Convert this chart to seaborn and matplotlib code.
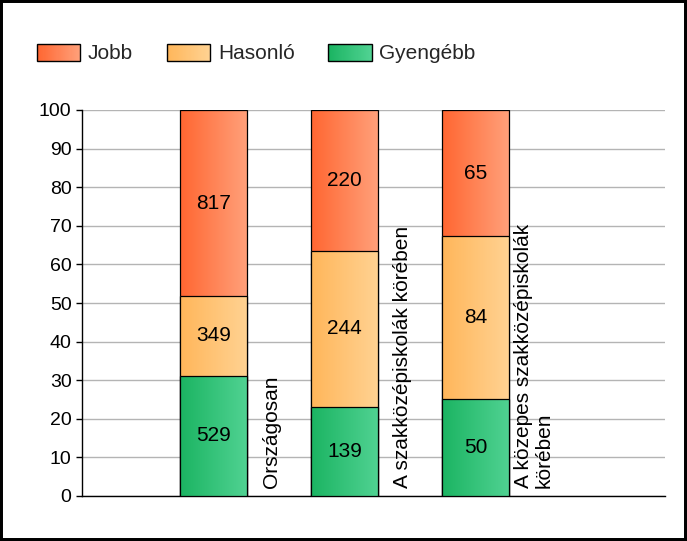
import numpy as np
import pandas as pd
import matplotlib
matplotlib.use("Agg")
import matplotlib.pyplot as plt
import seaborn as sns
from matplotlib.colors import LinearSegmentedColormap, to_rgb
from matplotlib.patches import Rectangle
from matplotlib.legend_handler import HandlerBase

# ---- data ----
categories = ["Országosan", "A szakközépiskolák körében", "A közepes szakközépiskolák\nkörében"]
series = ["Jobb", "Hasonló", "Gyengébb"]
jobb = [817, 220, 65]
hasonlo = [349, 244, 84]
gyengebb = [529, 139, 50]
yticks = [0, 10, 20, 30, 40, 50, 60, 70, 80, 90, 100]

# gradient colours (left -> right)
grad_colors = {
    "Jobb": ("#FF6631", "#FFA07A"),
    "Hasonló": ("#FFB65A", "#FFD292"),
    "Gyengébb": ("#1BB462", "#50D292"),
}

sns.set_theme(style="ticks")
plt.rcParams["font.family"] = ["Liberation Sans", "DejaVu Sans"]
FS_TICK = 14
FS = 15

fig = plt.figure(figsize=(6.87, 5.41), dpi=100)
ax = fig.add_axes([82 / 687, 1 - 496 / 541, (665 - 82) / 687, (496 - 110) / 541])

totals = np.array(jobb) + np.array(hasonlo) + np.array(gyengebb)
p_g = np.array(gyengebb) / totals * 100
p_h = np.array(hasonlo) / totals * 100
p_j = np.array(jobb) / totals * 100

# cumulative tops, drawn back-to-front
layers = [
    ("Jobb", p_g + p_h + p_j),
    ("Hasonló", p_g + p_h),
    ("Gyengébb", p_g),
]

BW = 0.51
for k, (name, tops) in enumerate(layers):
    df = pd.DataFrame({"cat": categories, "val": tops})
    n_before = len(ax.patches)
    sns.barplot(data=df, x="cat", y="val", order=categories, width=BW,
                color=grad_colors[name][0], ax=ax, errorbar=None)
    cmap = LinearSegmentedColormap.from_list(name, grad_colors[name])
    grad = np.linspace(0, 1, 256).reshape(1, -1)
    for p in ax.patches[n_before:]:
        x0, y0 = p.get_x(), p.get_y()
        w, h = p.get_width(), p.get_height()
        p.set_facecolor("none")
        p.set_edgecolor("black")
        p.set_linewidth(0.9)
        p.set_zorder(3 + 2 * k + 0.5)
        im = ax.imshow(grad, extent=[x0, x0 + w, y0, y0 + h], aspect="auto",
                       cmap=cmap, interpolation="bilinear", zorder=3 + 2 * k,
                       origin="lower")
        im.set_clip_path(p)

# value labels
for i in range(len(categories)):
    segs = [(0, p_g[i], gyengebb[i]),
            (p_g[i], p_g[i] + p_h[i], hasonlo[i]),
            (p_g[i] + p_h[i], 100, jobb[i])]
    for lo, hi, v in segs:
        ax.text(i, (lo + hi) / 2, str(v), ha="center", va="center",
                fontsize=FS, color="black", zorder=20)

# category labels (rotated, right of bars)
for i, c in enumerate(categories):
    ax.text(i + 0.445, 2.0, c, rotation=90, ha="center", va="bottom",
            fontsize=FS, color="black", zorder=20, multialignment="left",
            linespacing=1.15)

ax.set_xlim(-1.004, 3.447)
ax.set_ylim(0, 100)
ax.set_yticks(yticks)
ax.set_yticklabels([str(t) for t in yticks], fontsize=FS_TICK)
ax.set_xticks([])
ax.set_xlabel("")
ax.set_ylabel("")
ax.yaxis.grid(True, color="#B4B4B4", linewidth=1.0)
ax.set_axisbelow(True)
for s in ["top", "right"]:
    ax.spines[s].set_visible(False)
for s in ["left", "bottom"]:
    ax.spines[s].set_color("black")
    ax.spines[s].set_linewidth(1.0)
ax.tick_params(axis="y", length=4, width=1, color="black", pad=3.5, labelcolor="black")


class GradHandler(HandlerBase):
    def __init__(self, c0, c1):
        super().__init__()
        self.c0 = np.array(to_rgb(c0))
        self.c1 = np.array(to_rgb(c1))

    def create_artists(self, legend, orig_handle, xdescent, ydescent, width,
                       height, fontsize, trans):
        arts = []
        n = 40
        for j in range(n):
            t = j / (n - 1)
            col = self.c0 * (1 - t) + self.c1 * t
            r = Rectangle((-xdescent + width * j / n, -ydescent), width / n + 0.3, height,
                          facecolor=col, edgecolor="none", transform=trans)
            arts.append(r)
        arts.append(Rectangle((-xdescent, -ydescent), width, height, facecolor="none",
                              edgecolor="black", linewidth=1.0, transform=trans))
        return arts


handles = [Rectangle((0, 0), 1, 1) for _ in series]
hmap = {h: GradHandler(*grad_colors[s]) for h, s in zip(handles, series)}
fig.legend(handles, series, handler_map=hmap, loc="center left",
           bbox_to_anchor=(37 / 687, 1 - 53.5 / 541), ncol=3, frameon=False,
           fontsize=FS, borderpad=0, borderaxespad=0, handlelength=2.07,
           handleheight=0.91, handletextpad=0.38, columnspacing=1.62)

fig.patches.append(Rectangle((0, 0), 1, 1, transform=fig.transFigure, fill=False,
                             edgecolor="black", linewidth=4.3, zorder=100))

fig.savefig("out.png", dpi=100)
